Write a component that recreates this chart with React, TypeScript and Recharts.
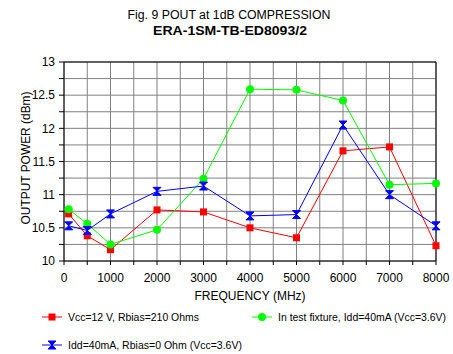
import React from "react";
import { CartesianGrid, Line, LineChart, ReferenceLine, XAxis, YAxis } from "recharts";

const freqs = [100, 500, 1000, 2000, 3000, 4000, 5000, 6000, 7000, 8000];
const vcc12 = [10.71, 10.38, 10.17, 10.77, 10.74, 10.5, 10.35, 11.66, 11.72, 10.23];
const fixture = [10.78, 10.56, 10.25, 10.47, 11.24, 12.59, 12.58, 12.42, 11.15, 11.17];
const rbias0 = [10.53, 10.46, 10.71, 11.05, 11.13, 10.68, 10.7, 12.05, 11.0, 10.53];

const xTicks = [0, 500, 1000, 1500, 2000, 2500, 3000, 3500, 4000, 4500, 5000, 5500, 6000, 6500, 7000, 7500, 8000];
const yTicks = [10, 10.25, 10.5, 10.75, 11, 11.25, 11.5, 11.75, 12, 12.25, 12.5, 12.75, 13];

const data = freqs.map((f, i) => ({ f, vcc12: vcc12[i], fixture: fixture[i], rbias0: rbias0[i] }));

const font = "'Liberation Sans', Arial, sans-serif";

const Square = (p: any) => <rect x={p.cx - 3.5} y={p.cy - 3.5} width={7} height={7} fill="#ff0000" />;
const Dot = (p: any) => <circle cx={p.cx} cy={p.cy} r={4} fill="#00ff00" />;
const Hourglass = (p: any) => {
  const { cx, cy } = p;
  return (
    <path
      d={`M${cx - 4},${cy - 4} L${cx + 4},${cy - 4} L${cx},${cy} L${cx + 4},${cy + 4} L${cx - 4},${cy + 4} L${cx},${cy} Z`}
      fill="#0000ff"
      stroke="#0000ff"
      strokeWidth={1}
    />
  );
};

function LegendBox() {
  const item = (x: number, y: number, color: string, marker: React.ReactNode, label: string, len: number) => (
    <g>
      <line x1={x} y1={y} x2={x + 20} y2={y} stroke={color} strokeWidth={1} />
      {marker}
      <text x={x + 26} y={y + 4} fontSize={10.5} fontFamily={font} fill="#000" textLength={len} lengthAdjust="spacingAndGlyphs">{label}</text>
    </g>
  );
  return (
    <svg width={453} height={60} style={{ position: "absolute", left: 0, top: 310 }}>
      {item(42, 7, "#ff0000", <Square cx={52} cy={7} />, "Vcc=12 V, Rbias=210 Ohms", 131)}
      {item(252, 7, "#00ff00", <Dot cx={262} cy={7} />, "In test fixture, Idd=40mA (Vcc=3.6V)", 168)}
      {item(42, 35, "#0000ff", <Hourglass cx={52} cy={35} />, "Idd=40mA, Rbias=0 Ohm (Vcc=3.6V)", 174)}
    </svg>
  );
}

export default function App() {
  return (
    <div style={{ position: "absolute", left: 0, top: 0, width: 453, height: 354, background: "#fff", fontFamily: font }}>
      <svg style={{ position: "absolute", left: 0, top: 0 }} width={453} height={354}>
        <text x={229} y={19} textAnchor="middle" fontSize={12} fontFamily={font} textLength={203} lengthAdjust="spacingAndGlyphs">Fig. 9   POUT at 1dB COMPRESSION</text>
        <text x={230} y={35} textAnchor="middle" fontSize={13} fontWeight="bold" fontFamily={font} textLength={154} lengthAdjust="spacingAndGlyphs">ERA-1SM-TB-ED8093/2</text>
        <text x={30} y={158} textAnchor="middle" fontSize={12} fontFamily={font} transform="rotate(-90 30 158)" textLength={133} lengthAdjust="spacingAndGlyphs">OUTPUT POWER (dBm)</text>
        <text x={250} y={300} textAnchor="middle" fontSize={12} fontFamily={font}>FREQUENCY (MHz)</text>
      </svg>
      <LineChart width={453} height={354} data={data} margin={{ top: 62, right: 17, bottom: 0, left: 0 }} style={{ position: "absolute", left: 0, top: 0 }}>
        <CartesianGrid stroke="#808080" strokeWidth={1} />
        <XAxis
          dataKey="f"
          type="number"
          domain={[0, 8000]}
          ticks={xTicks}
          interval={0}
          height={93}
          tickSize={4}
          tickMargin={8}
          stroke="#000"
          tick={{ fontSize: 12, fill: "#000", fontFamily: font }}
          tickFormatter={(v: number) => (v % 1000 === 0 ? String(v) : "")}
        />
        <YAxis
          type="number"
          domain={[10, 13]}
          ticks={yTicks}
          interval={0}
          width={64}
          tickSize={5}
          tickMargin={4}
          stroke="#000"
          tick={{ fontSize: 12, fill: "#000", fontFamily: font }}
          tickFormatter={(v: number) => (v % 0.5 === 0 ? String(v) : "")}
        />
        <ReferenceLine y={13} stroke="#000" />
        <ReferenceLine x={8000} stroke="#000" />
        <Line dataKey="vcc12" stroke="#ff0000" strokeWidth={1} dot={<Square />} activeDot={false} isAnimationActive={false} />
        <Line dataKey="fixture" stroke="#00ff00" strokeWidth={1} dot={<Dot />} activeDot={false} isAnimationActive={false} />
        <Line dataKey="rbias0" stroke="#0000ff" strokeWidth={1} dot={<Hourglass />} activeDot={false} isAnimationActive={false} />
      </LineChart>
      <LegendBox />
    </div>
  );
}
